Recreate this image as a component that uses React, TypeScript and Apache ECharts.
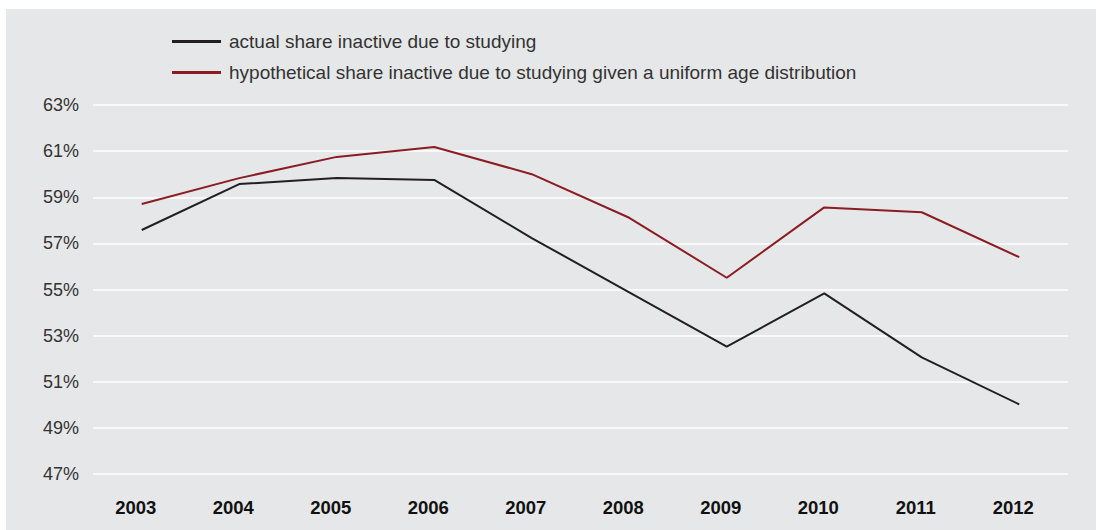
import React, { useEffect, useRef } from "react";
import * as echarts from "echarts";

const years = ["2003", "2004", "2005", "2006", "2007", "2008", "2009", "2010", "2011", "2012"];
const actualShare = [57.58, 59.57, 59.83, 59.75, 57.23, 54.88, 52.52, 54.83, 52.06, 50.02];
const hypotheticalShare = [58.71, 59.83, 60.75, 61.18, 60.0, 58.11, 55.51, 58.56, 58.35, 56.4];
const seriesNames = [
  "actual share inactive due to studying",
  "hypothetical share inactive due to studying given a uniform age distribution",
];

export default function App() {
  const ref = useRef<HTMLDivElement>(null);
  useEffect(() => {
    if (!ref.current) return;
    const chart = echarts.init(ref.current, undefined, { renderer: "svg" });
    const font = "'Liberation Sans', Arial, Helvetica, sans-serif";
    chart.setOption({
      animation: false,
      backgroundColor: "#e6e7e8",
      textStyle: { fontFamily: font },
      legend: {
        orient: "vertical",
        left: 161,
        top: 18,
        itemWidth: 49,
        itemHeight: 3,
        itemGap: 12,
        icon: "rect",
        data: seriesNames,
        textStyle: { fontSize: 19, lineHeight: 19, color: "#333", fontFamily: font, padding: [0, 0, 0, 3] },
      },
      grid: { left: 87, right: 28, top: 96, bottom: 56 },
      xAxis: {
        type: "category",
        data: years,
        boundaryGap: true,
        axisLine: { show: false },
        axisTick: { show: false },
        axisLabel: {
          fontSize: 18.5,
          fontWeight: "bold",
          color: "#111",
          margin: 24,
          padding: [0, 12, 0, 0],
          fontFamily: font,
        },
      },
      yAxis: {
        type: "value",
        min: 47,
        max: 63,
        interval: 2,
        axisLine: { show: false },
        axisTick: { show: false },
        axisLabel: {
          fontSize: 18,
          color: "#333",
          margin: 14,
          formatter: (v: number) => `${v}%`,
          fontFamily: font,
        },
        splitLine: { lineStyle: { color: "#ffffff", width: 1.5 } },
      },
      series: [
        {
          name: seriesNames[0],
          type: "line",
          data: actualShare,
          symbol: "none",
          lineStyle: { color: "#231f20", width: 2 },
          itemStyle: { color: "#231f20" },
        },
        {
          name: seriesNames[1],
          type: "line",
          data: hypotheticalShare,
          symbol: "none",
          lineStyle: { color: "#8b1c22", width: 2 },
          itemStyle: { color: "#8b1c22" },
        },
      ],
    });
    return () => chart.dispose();
  }, []);
  return (
    <div
      ref={ref}
      style={{ position: "absolute", left: 6, top: 9, width: 1090, height: 521 }}
    />
  );
}
